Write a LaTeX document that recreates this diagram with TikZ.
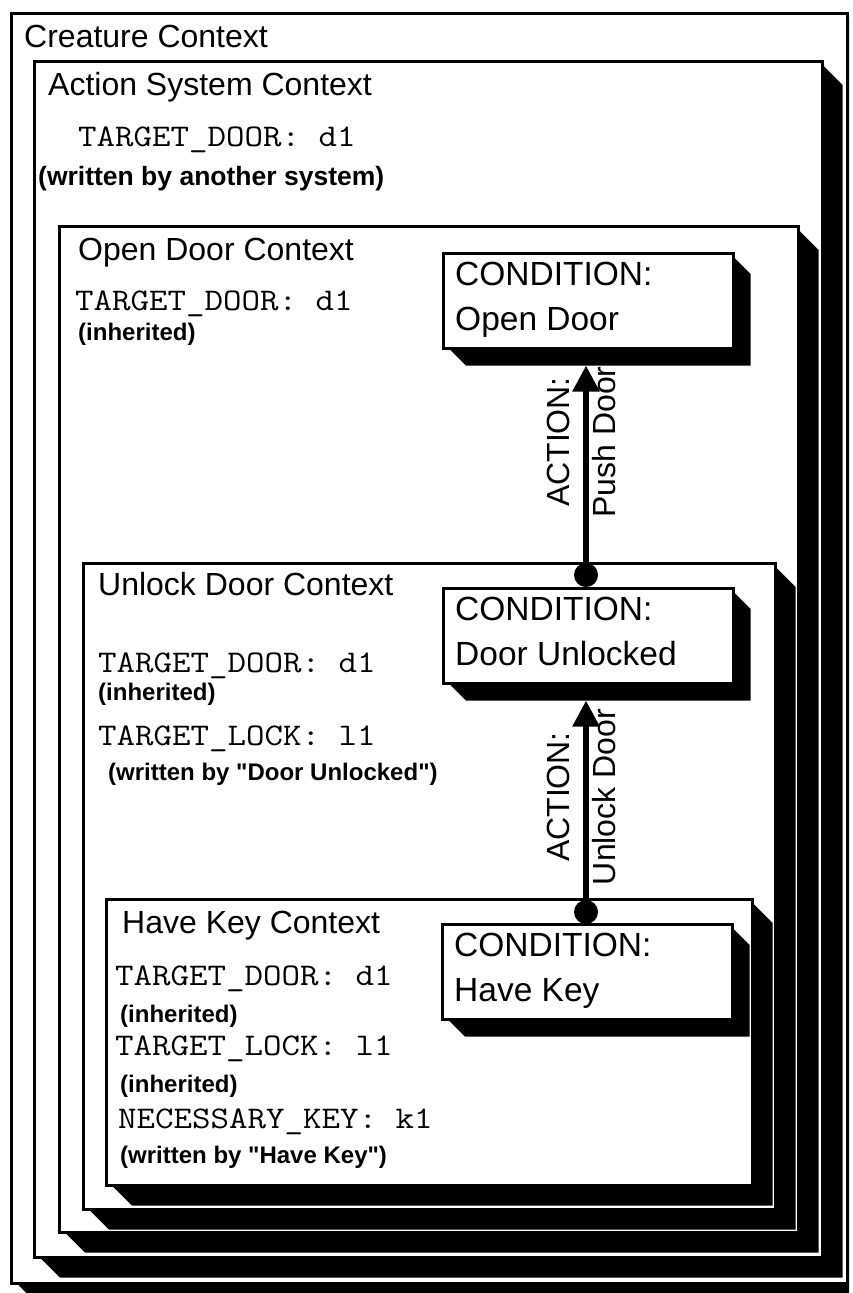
\documentclass[tikz,border=0pt]{standalone}
\usepackage{fontspec}
\setmainfont{Liberation Sans}
\newfontfamily\varfont[FakeStretch=1.14]{Latin Modern Mono}
\usetikzlibrary{arrows.meta,calc}

% Schatten rechts/unten, Ecken abgeschraegt
\newcommand{\boxshadow}[2]{%
  \fill ([yshift=-6pt]#1.north east) -- ++(#2,-#2)
    |- ([xshift=#2+8pt, yshift=-#2]#1.south west)
    -- ([xshift=8pt]#1.south west) -- (#1.south east) -- cycle;
}

\begin{document}
\begin{tikzpicture}[
    x=1pt, y=-1pt,
    >=latex,
    ctxbox/.style={
        draw, line width=2.6pt,
        anchor=north west, inner sep=0pt
    },
    condbox/.style={
        draw, line width=2.6pt,
        anchor=north west, inner sep=0pt,
        minimum width=290pt, minimum height=95pt
    },
    ttl/.style={anchor=base west, inner sep=0pt, font=\fontsize{32}{38}\selectfont},
    condtxt/.style={anchor=base west, inner sep=0pt, font=\fontsize{33.5}{40}\selectfont},
    var/.style={anchor=base west, inner sep=0pt, font=\varfont\fontsize{31.5}{36}\selectfont},
    note/.style={anchor=base west, inner sep=0pt, font=\bfseries\fontsize{24}{29}\selectfont},
    dot/.style={circle, fill, inner sep=0pt, minimum size=24pt},
    act/.style={line width=6pt, -{Triangle[width=26pt, length=26pt]}},
    actlbl/.style={rotate=90, align=center, inner sep=0pt,
        font=\fontsize{32}{46}\selectfont}
]
\useasboundingbox (0,0) rectangle (852,1293);
\clip (0,0) rectangle (849,1293);

% ----------------------------------------------------------
% Kontexte, von aussen nach innen
% ----------------------------------------------------------
\node[ctxbox, minimum width=836pt, minimum height=1270pt] (creature) at (10,12) {};
\node[ctxbox, minimum width=788pt, minimum height=1196pt] (actsys)   at (33,60) {};
\node[ctxbox, minimum width=739pt, minimum height=1006pt] (opendoor) at (58,225) {};
\node[ctxbox, minimum width=692pt, minimum height=646pt]  (unlock)   at (82,562) {};
\node[ctxbox, minimum width=646pt, minimum height=286pt]  (havekey)  at (105,898) {};

\boxshadow{creature}{19pt}
\boxshadow{actsys}{19pt}
\boxshadow{opendoor}{19pt}
\boxshadow{unlock}{19pt}
\boxshadow{havekey}{19pt}

% Creature / Action System
\node[ttl] (tCreature) at (24,47) {Creature Context};
\node[ttl] (tActSys)   at (48,95) {Action System Context};
\node[var] (vAsDoor)   at (78,146) {TARGET\_DOOR: d1};
\node[note, font=\bfseries\fontsize{26.5}{30}\selectfont] (nAsDoor) at (38,185) {(written by another system)};

% Open Door
\node[ttl] (tOpen)     at (78,260) {Open Door Context};
\node[var] (vOdDoor)   at (75,310) {TARGET\_DOOR: d1};
\node[note] (nOdDoor)  at (78,340) {(inherited)};

% Unlock Door
\node[ttl] (tUnlock)   at (98,595) {Unlock Door Context};
\node[var] (vUdDoor)   at (98,672) {TARGET\_DOOR: d1};
\node[note] (nUdDoor)  at (98,700) {(inherited)};
\node[var] (vUdLock)   at (98,745) {TARGET\_LOCK: l1};
\node[note] (nUdLock)  at (108,780) {(written by \textquotedbl Door Unlocked\textquotedbl)};

% Have Key
\node[ttl] (tKey)      at (122,933) {Have Key Context};
\node[var] (vHkDoor)   at (115,985) {TARGET\_DOOR: d1};
\node[note] (nHkDoor)  at (120,1022) {(inherited)};
\node[var] (vHkLock)   at (115,1055) {TARGET\_LOCK: l1};
\node[note] (nHkLock)  at (120,1092) {(inherited)};
\node[var] (vHkKey)    at (118,1128) {NECESSARY\_KEY: k1};
\node[note] (nHkKey)   at (120,1163) {(written by \textquotedbl Have Key\textquotedbl)};

% ----------------------------------------------------------
% Bedingungen
% ----------------------------------------------------------
\node[condbox] (cOpen)   at (442,252) {};
\node[condbox] (cUnlock) at (442,587) {};
\node[condbox] (cKey)    at (441,923) {};
\boxshadow{cOpen}{16pt}
\boxshadow{cUnlock}{16pt}
\boxshadow{cKey}{16pt}

\node[condtxt] (cOpenA)   at (455,285) {CONDITION:};
\node[condtxt] (cOpenB)   at (455,330) {Open Door};
\node[condtxt] (cUnlockA) at (455,620) {CONDITION:};
\node[condtxt] (cUnlockB) at (455,665) {Door Unlocked};
\node[condtxt] (cKeyA)    at (454,956) {CONDITION:};
\node[condtxt] (cKeyB)    at (454,1001) {Have Key};

% ----------------------------------------------------------
% Aktionen: vom Punkt auf dem Kontext zur Bedingung darueber
% ----------------------------------------------------------
\node[dot] (dPush)   at (586,575) {};
\node[dot] (dUnlock) at (586,912) {};
\draw[act] (dPush.center)   -- ($(dPush |- cOpen.south)+(0,16)$);
\draw[act] (dUnlock.center) -- ($(dUnlock |- cUnlock.south)+(0,16)$);

\node[actlbl] (lPush)   at (581,442) {ACTION:\\Push Door};
\node[actlbl] (lUnlock) at (581,797) {ACTION:\\Unlock Door};

\end{tikzpicture}
\end{document}
